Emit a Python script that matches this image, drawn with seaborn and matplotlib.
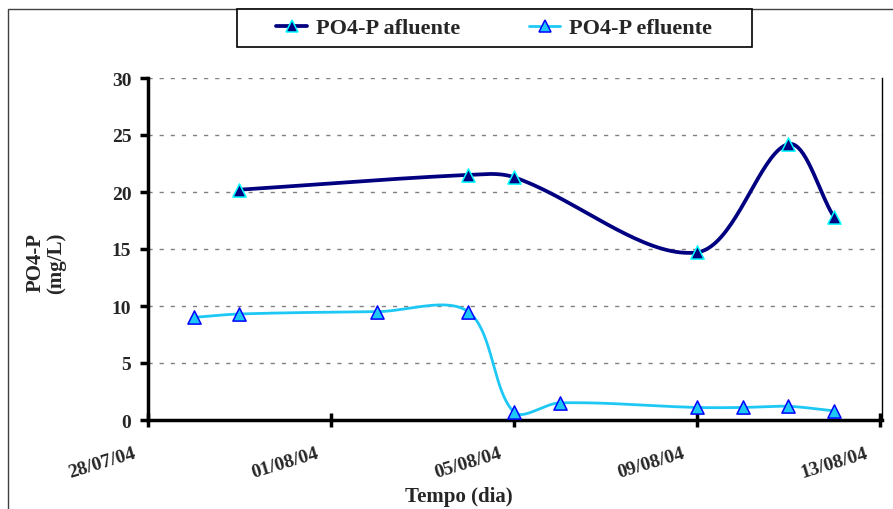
import numpy as np
import pandas as pd
import matplotlib
matplotlib.use("Agg")
import matplotlib.pyplot as plt
import matplotlib.dates as mdates
import matplotlib.transforms as mtransforms
from matplotlib.lines import Line2D
from matplotlib.patches import Rectangle
import seaborn as sns

# Measured PO4-P concentrations (mg/L)
afluente_dates = ["30/07/04", "04/08/04", "05/08/04", "09/08/04", "11/08/04", "12/08/04"]
afluente_values = [20.2, 21.5, 21.3, 14.7, 24.2, 17.8]

efluente_dates = ["29/07/04", "30/07/04", "02/08/04", "04/08/04", "05/08/04",
                  "06/08/04", "09/08/04", "10/08/04", "11/08/04", "12/08/04"]
efluente_values = [9.0, 9.3, 9.5, 9.5, 0.7, 1.5, 1.1, 1.1, 1.2, 0.8]

tick_dates = ["28/07/04", "01/08/04", "05/08/04", "09/08/04", "13/08/04"]
y_ticks = [0, 5, 10, 15, 20, 25, 30]

series_names = ["PO4-P afluente", "PO4-P efluente"]
line_colors = ["#000080", "#1EC8F5"]
marker_faces = ["#000080", "#1EC8F5"]
marker_edges = ["#00FFFF", "#0000FF"]
line_widths = [2.7, 2.0]

FIG_W, FIG_H, DPI = 8.93, 5.10, 100
AX_L, AX_R, AX_T, AX_B = 148, 882, 79, 421  # axes box in pixels


def to_num(dates):
    return mdates.date2num(pd.to_datetime(dates, format="%d/%m/%y"))


def smooth_curve(x, y, sx, sy, n=40):
    """Bezier smoothing through each point, tangents weighted by segment length
    (computed in screen units so the curve shape follows the drawn aspect)."""
    P = np.column_stack([np.asarray(x, float) * sx, np.asarray(y, float) * sy])
    P = np.vstack([P[0], P, P[-1]])
    t = np.linspace(0, 1, n)[:, None]
    out = []
    for i in range(1, len(P) - 2):
        p0, p1, p2, p3 = P[i - 1], P[i], P[i + 1], P[i + 2]
        d01 = np.linalg.norm(p1 - p0)
        d12 = np.linalg.norm(p2 - p1)
        d23 = np.linalg.norm(p3 - p2)
        w1 = d12 / (d01 + d12) if d01 + d12 > 0 else 0.0
        w2 = d12 / (d12 + d23) if d12 + d23 > 0 else 0.0
        c1 = p1 + (p2 - p0) * w1 / 3.0
        c2 = p2 - (p3 - p1) * w2 / 3.0
        b = (1 - t) ** 3 * p1 + 3 * (1 - t) ** 2 * t * c1 + 3 * (1 - t) * t ** 2 * c2 + t ** 3 * p2
        out.append(b)
    b = np.vstack(out)
    return b[:, 0] / sx, b[:, 1] / sy


sns.set_theme(style="white")
plt.rcParams["font.family"] = ["Liberation Serif", "DejaVu Serif"]
plt.rcParams["font.weight"] = "bold"

fig = plt.figure(figsize=(FIG_W, FIG_H), dpi=DPI)
W, H = FIG_W * DPI, FIG_H * DPI
ax = fig.add_axes([AX_L / W, 1 - AX_B / H, (AX_R - AX_L) / W, (AX_B - AX_T) / H])

xt = to_num(tick_dates)
x_lo, x_hi = xt[0], xt[-1] + 0.05
y_lo, y_hi = 0, 30
px_per_day = (AX_R - AX_L) / (x_hi - x_lo)
px_per_unit = (AX_B - AX_T) / (y_hi - y_lo)

series = [(afluente_dates, afluente_values), (efluente_dates, efluente_values)]
for (dates, vals), lc, mf, me, lw in zip(series, line_colors, marker_faces,
                                         marker_edges, line_widths):
    xn = to_num(dates)
    cx, cy = smooth_curve(xn, vals, px_per_day, px_per_unit)
    curve = pd.DataFrame({"x": cx, "y": cy})
    sns.lineplot(data=curve, x="x", y="y", ax=ax, color=lc, linewidth=lw,
                 sort=False, estimator=None, zorder=3)
    pts = pd.DataFrame({"x": xn, "y": vals})
    sns.scatterplot(data=pts, x="x", y="y", ax=ax, marker="^", s=90,
                    color=mf, edgecolor=me, linewidth=1.1, zorder=4)

ax.set_xlim(x_lo, x_hi)
ax.set_ylim(y_lo, y_hi)
ax.set_xticks(xt)
ax.set_xticklabels([])
# slanted date labels, set a little left of and below each tick
lab_trans = ax.get_xaxis_transform() + mtransforms.ScaledTranslation(
    -15 / DPI, -24 / DPI, fig.dpi_scale_trans)
for xv, lab in zip(xt, tick_dates):
    ax.text(xv, 0, lab, transform=lab_trans, rotation=17, ha="right", va="top",
            rotation_mode="anchor", fontsize=14, fontweight="bold", clip_on=False)
ax.set_yticks(y_ticks)
ax.set_yticklabels([str(v) for v in y_ticks], fontsize=14, fontweight="bold")
ax.set_xlabel("")
ax.set_ylabel("")

for v in y_ticks[1:]:
    ax.axhline(v, color="#808080", linestyle=(0, (3, 5)), linewidth=1.0, zorder=1)

for side in ["left", "bottom"]:
    ax.spines[side].set_linewidth(2.5)
    ax.spines[side].set_color("black")
ax.spines["right"].set_linewidth(1.0)
ax.spines["right"].set_color("black")
ax.spines["top"].set_visible(False)

ax.tick_params(axis="y", direction="out", length=6, width=2.5, color="black",
               left=True, pad=6)
ax.tick_params(axis="x", direction="inout", length=10, width=2.5, color="black",
               bottom=True)

fig.text(459 / W, 1 - 497 / H, "Tempo (dia)", ha="center", va="center",
         fontsize=15, fontweight="bold")
fig.text(46 / W, 1 - 263 / H, "PO4-P\n(mg/L)", ha="center", va="center",
         rotation=90, fontsize=15, fontweight="bold", linespacing=1.05)

# outer chart frame
fig.add_artist(Rectangle((8 / W, -0.1), 1.2, 1.1 - 10 / H, transform=fig.transFigure,
                         fill=False, edgecolor="#404040", linewidth=1.0))

# legend box and entries
fig.add_artist(Rectangle((237 / W, 1 - 48 / H), (752 - 237) / W, 38 / H,
                         transform=fig.transFigure, fill=True, facecolor="white",
                         edgecolor="black", linewidth=1.2, zorder=5))
handles = [Line2D([0], [0], color=lc, linewidth=lw, marker="^", markersize=9,
                  markerfacecolor=mf, markeredgecolor=me, markeredgewidth=1.1)
           for lc, lw, mf, me in zip(line_colors, line_widths, marker_faces, marker_edges)]
leg = fig.legend(handles, series_names, loc="center", ncol=2,
                 bbox_to_anchor=(494 / W, 1 - 29 / H), frameon=False,
                 prop={"size": 16, "weight": "bold"},
                 handlelength=1.4, columnspacing=3.1, handletextpad=0.38,
                 borderaxespad=0, borderpad=0)
leg.set_zorder(6)

fig.savefig("out.png", dpi=DPI)
